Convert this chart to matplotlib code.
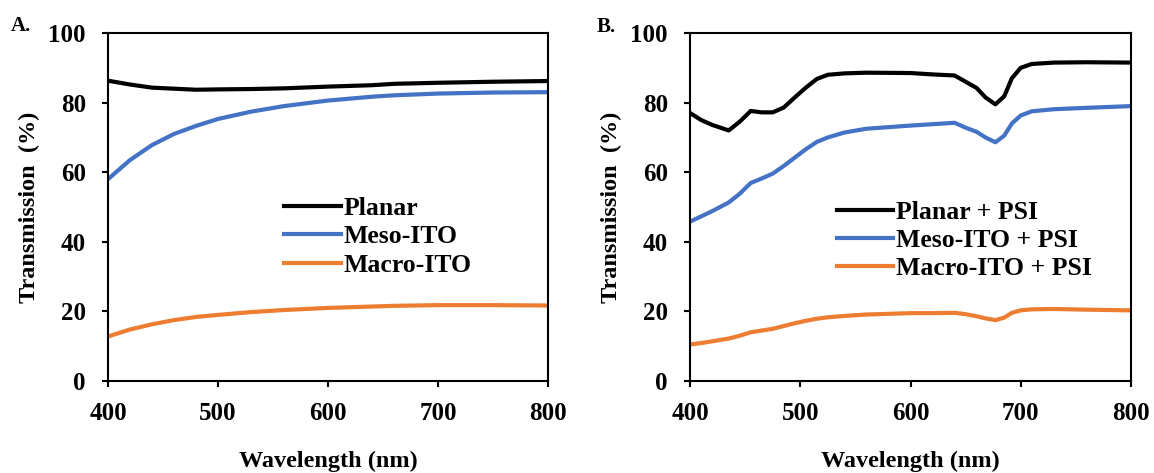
import matplotlib.pyplot as plt

plt.rcParams["font.family"] = ["Liberation Serif", "DejaVu Serif"]
plt.rcParams["font.weight"] = "bold"

BLACK = "#000000"
BLUE = "#4472C4"
ORANGE = "#ED7D31"

# Panel A: bare electrodes
wl_a = [400, 420, 440, 460, 480, 500, 530, 560, 600, 640, 660, 700, 750, 800]
planar = [86.3, 85.2, 84.3, 84.0, 83.7, 83.8, 83.9, 84.1, 84.6, 85.0, 85.4, 85.7, 86.0, 86.2]
meso_ito = [58.0, 63.5, 67.8, 71.0, 73.3, 75.3, 77.4, 79.0, 80.6, 81.7, 82.1, 82.6, 82.9, 83.0]
macro_ito = [12.8, 14.8, 16.3, 17.5, 18.4, 19.0, 19.8, 20.4, 21.0, 21.4, 21.6, 21.8, 21.8, 21.7]

# Panel B: electrodes loaded with PSI
wl_b = [400, 410, 420, 435, 445, 455, 465, 475, 485, 495, 505, 515, 525, 540,
        560, 600, 620, 640, 650, 660, 668, 677, 685, 692, 700, 710, 730, 760, 800]
planar_psi = [77.0, 75.0, 73.6, 72.0, 74.5, 77.6, 77.2, 77.2, 78.6, 81.5, 84.3, 86.8, 88.0, 88.4,
              88.6, 88.5, 88.1, 87.8, 86.0, 84.2, 81.5, 79.5, 81.8, 87.0, 90.0, 91.1, 91.5, 91.6, 91.5]
meso_psi = [45.8, 47.3, 48.8, 51.3, 53.8, 56.9, 58.2, 59.6, 61.8, 64.2, 66.6, 68.7, 70.0, 71.4,
            72.5, 73.4, 73.8, 74.2, 72.8, 71.6, 70.0, 68.6, 70.5, 74.0, 76.3, 77.5, 78.1, 78.5, 79.0]
macro_psi = [10.5, 10.9, 11.4, 12.2, 13.0, 14.0, 14.5, 15.0, 15.8, 16.6, 17.3, 17.9, 18.3, 18.7,
             19.1, 19.5, 19.5, 19.6, 19.2, 18.6, 18.0, 17.5, 18.2, 19.6, 20.3, 20.6, 20.7, 20.5, 20.3]

fig = plt.figure(figsize=(11.54, 4.73), dpi=100)
ax_a = fig.add_axes([0.0936, 0.1945, 0.3813, 0.7357])
ax_b = fig.add_axes([0.598, 0.1945, 0.382, 0.7357])

TICK_FS = 18
LABEL_FS = 17.5
LEGEND_FS = 18.5


def style_axes(ax):
    ax.set_xlim(400, 800)
    ax.set_ylim(0, 100)
    ax.set_xticks([400, 500, 600, 700, 800])
    ax.set_yticks([0, 20, 40, 60, 80, 100])
    ax.tick_params(axis="both", direction="out", length=4, width=1.5, labelsize=TICK_FS)
    ax.tick_params(axis="x", pad=11)
    ax.tick_params(axis="y", pad=12)
    for spine in ax.spines.values():
        spine.set_linewidth(1.5)
    ax.set_xlabel("Wavelength (nm)", fontsize=LABEL_FS, fontweight="bold", labelpad=18.5)
    ax.set_ylabel("Transmission  (%)", fontsize=LABEL_FS, fontweight="bold", labelpad=6)


def add_legend(ax, anchor):
    ax.legend(loc="upper left", bbox_to_anchor=anchor, frameon=False, fontsize=LEGEND_FS,
              handlelength=2.2, handletextpad=0.1, labelspacing=0.2, borderaxespad=0,
              borderpad=0)


lw = 3.0
ax_a.plot(wl_a, planar, color=BLACK, lw=lw, label="Planar")
ax_a.plot(wl_a, meso_ito, color=BLUE, lw=lw, label="Meso-ITO")
ax_a.plot(wl_a, macro_ito, color=ORANGE, lw=lw, label="Macro-ITO")
style_axes(ax_a)
add_legend(ax_a, (0.40, 0.528))

ax_b.plot(wl_b, planar_psi, color=BLACK, lw=lw, label="Planar + PSI")
ax_b.plot(wl_b, meso_psi, color=BLUE, lw=lw, label="Meso-ITO + PSI")
ax_b.plot(wl_b, macro_psi, color=ORANGE, lw=lw, label="Macro-ITO + PSI")
style_axes(ax_b)
add_legend(ax_b, (0.333, 0.517))

fig.text(0.009, 0.934, "A.", fontsize=15, fontweight="bold", va="baseline")
fig.text(0.517, 0.932, "B.", fontsize=15, fontweight="bold", va="baseline")

fig.savefig("out.png", dpi=100, facecolor="white")
